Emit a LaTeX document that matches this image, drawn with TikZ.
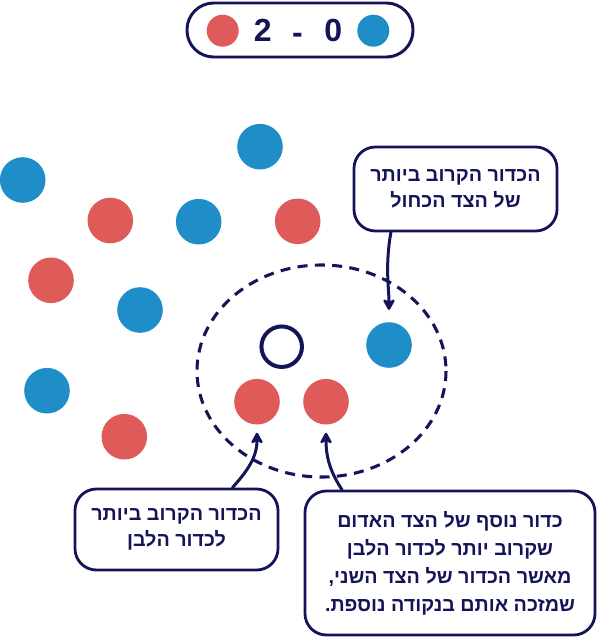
\documentclass[tikz,border=0pt]{standalone}
\usepackage{fontspec}
\setmainfont{Liberation Sans}
\newfontfamily\hebfont[Script=Hebrew]{Liberation Sans}
\TeXXeTstate=1
\usetikzlibrary{arrows.meta,calc,shadows}
\definecolor{ink}{HTML}{141458}
\definecolor{redteam}{HTML}{DE5B5A}
\definecolor{blueteam}{HTML}{1F8EC8}

\begin{document}
\begin{tikzpicture}[x=0.75pt,y=-0.75pt,
    >={Stealth[length=10pt,width=11pt,inset=3pt,round]},
    ball/.style={circle,inner sep=0pt,minimum size=34.2pt},
    red ball/.style={ball,fill=redteam},
    blue ball/.style={ball,fill=blueteam},
    goals/.style={anchor=base,text=ink,
      font=\fontsize{24}{28}\selectfont\bfseries},
    callout/.style={draw=ink,line width=2.1pt,rounded corners=16pt,
      fill=white,text=ink,align=center,inner sep=0pt,
      font=\hebfont\bfseries\fontsize{14.8}{19.5}\selectfont},
    pointer/.style={ink,line width=2.25pt,line cap=round,->}]
  \useasboundingbox (0,0) rectangle (599,638);

  % score board
  \node[draw=ink,line width=2.2pt,rounded corners=20pt,fill=white,
        minimum width=169.5pt,minimum height=40.5pt,
        drop shadow={opacity=0.15,shadow xshift=1.2pt,shadow yshift=-1.5pt}]
    (score) at (300,30) {};
  \node[red ball,minimum size=24pt] (redmark) at (222.7,30.7) {};
  \node[blue ball,minimum size=24pt] (bluemark) at (373.3,30.7) {};
  \node[goals] (redgoals) at (262.7,42) {2};
  \node[goals] (dash) at (297.5,44) {-};
  \node[goals] (bluegoals) at (333.3,42) {0};

  % balls on the field
  \node[blue ball] (b1) at (22.7,180) {};
  \node[blue ball] (b2) at (260,146.7) {};
  \node[red ball]  (r1) at (110.3,220.5) {};
  \node[blue ball] (b3) at (198.7,221.7) {};
  \node[red ball]  (r2) at (297.7,221.3) {};
  \node[red ball]  (r3) at (51,280.3) {};
  \node[blue ball] (b4) at (140,310) {};
  \node[blue ball] (b5) at (47,390.7) {};
  \node[red ball]  (r4) at (124.3,436.7) {};

  % jack and the closest balls
  \node[circle,draw=ink,line width=3pt,inner sep=0pt,minimum size=30.4pt]
    (jack) at (281.7,346.7) {};
  \node[blue ball] (nearblue) at (389,345) {};
  \node[red ball]  (nearred) at (257,401.7) {};
  \node[red ball]  (secondred) at (326,401.7) {};
  \draw[ink,line width=2.3pt,dash pattern=on 7.5pt off 5.5pt]
    (321.5,371) ellipse [x radius=124.5,y radius=106];

  % labels
  \node[callout,minimum width=152.25pt,minimum height=63pt]
    (bluelbl) at (455.5,189)
    {\beginR הכדור הקרוב ביותר\endR\\ \beginR של הצד הכחול\endR};
  \node[callout,minimum width=152.25pt,minimum height=60.75pt]
    (redlbl) at (176.5,529.5)
    {\beginR הכדור הקרוב ביותר\endR\\ \beginR לכדור הלבן\endR};
  \node[callout,minimum width=217.5pt,minimum height=108pt,
        font=\hebfont\bfseries\fontsize{14.8}{21}\selectfont]
    (pointlbl) at (450,563)
    {\beginR כדור נוסף של הצד האדום\endR\\
     \beginR שקרוב יותר לכדור הלבן\endR\\
     \beginR מאשר הכדור של הצד השני,\endR\\
     \beginR שמזכה אותם בנקודה נוספת.\endR};

  \draw[pointer] ($(bluelbl.south west)!0.186!(bluelbl.south east)$)
    .. controls +(-6,34) and +(0,-22) .. ($(nearblue.north)+(0,-12)$);
  \draw[pointer] ($(redlbl.north west)!0.772!(redlbl.north east)$)
    .. controls +(16,-18) and +(0,24) .. ($(nearred.south)+(0,8)$);
  \draw[pointer] ($(pointlbl.north west)!0.131!(pointlbl.north east)$)
    .. controls +(-12,-18) and +(0,24) .. ($(secondred.south)+(0,8)$);
\end{tikzpicture}
\end{document}
